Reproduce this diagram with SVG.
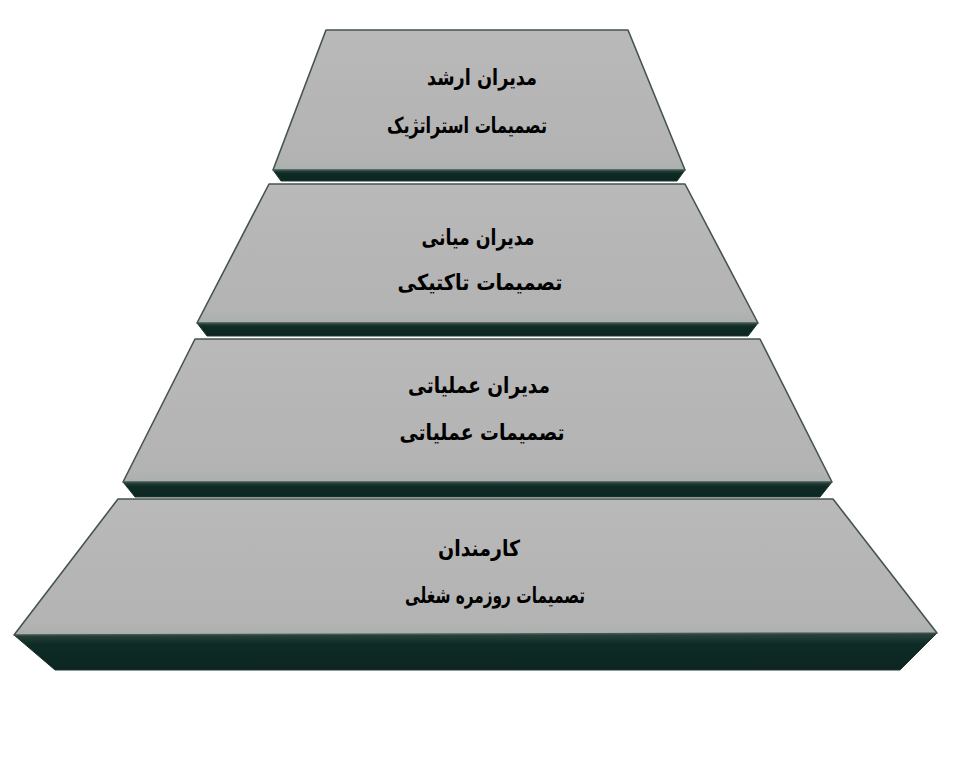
<svg xmlns="http://www.w3.org/2000/svg" width="954" height="769" viewBox="0 0 954 769">
  <defs>
    <linearGradient id="band" x1="0" y1="0" x2="0" y2="1">
      <stop offset="0" stop-color="#2a463f"/>
      <stop offset="0.3" stop-color="#0f2b25"/>
      <stop offset="1" stop-color="#0c2520"/>
    </linearGradient>
    <linearGradient id="face" x1="0" y1="0" x2="0" y2="1">
      <stop offset="0" stop-color="#b9b9b9"/>
      <stop offset="0.92" stop-color="#b3b3b3"/>
      <stop offset="1" stop-color="#a9b0ae"/>
    </linearGradient>
  </defs>
  <style>
    .face { fill: url(#face); stroke: #45544f; stroke-width: 1.6; stroke-linejoin: round; }
    .band { fill: url(#band); stroke: #1c3630; stroke-width: 1; stroke-linejoin: round; }
    .lbl { font-family: "DejaVu Sans", "Noto Sans", sans-serif; font-weight: bold; font-size: 22px; fill: #000; text-anchor: middle; direction: rtl; }
  </style>
  <rect width="954" height="769" fill="#ffffff"/>
  <g id="connectors"/>
  <g id="tier1">
    <polygon class="band" points="273,170 685,170 677,181 281,181"/>
    <polygon class="face" points="326,30 628,30 685,170 273,170"/>
    <text class="lbl" x="482" y="85" textLength="110" lengthAdjust="spacingAndGlyphs">مدیران ارشد</text>
    <text class="lbl" x="467" y="133" textLength="160" lengthAdjust="spacingAndGlyphs">تصمیمات استراتژیک</text>
  </g>
  <g id="tier2">
    <polygon class="band" points="197,323 758,323 748,336 207,336"/>
    <polygon class="face" points="269,184 685,184 758,323 197,323"/>
    <text class="lbl" x="478" y="245" textLength="113" lengthAdjust="spacingAndGlyphs">مدیران میانی</text>
    <text class="lbl" x="480" y="290" textLength="165" lengthAdjust="spacingAndGlyphs">تصمیمات تاکتیکی</text>
  </g>
  <g id="tier3">
    <polygon class="band" points="123,482 832,482 820,497 135,497"/>
    <polygon class="face" points="195,339 760,339 832,482 123,482"/>
    <text class="lbl" x="479" y="393" textLength="142" lengthAdjust="spacingAndGlyphs">مدیران عملیاتی</text>
    <text class="lbl" x="482" y="440" textLength="165" lengthAdjust="spacingAndGlyphs">تصمیمات عملیاتی</text>
  </g>
  <g id="tier4">
    <polygon class="band" points="14,635 937,633 900,670 55,670"/>
    <polygon class="face" points="118,499 833,499 937,633 14,635"/>
    <text class="lbl" x="479" y="556" textLength="82" lengthAdjust="spacingAndGlyphs">کارمندان</text>
    <text class="lbl" x="495" y="603" textLength="180" lengthAdjust="spacingAndGlyphs">تصمیمات روزمره شغلی</text>
  </g>
</svg>
